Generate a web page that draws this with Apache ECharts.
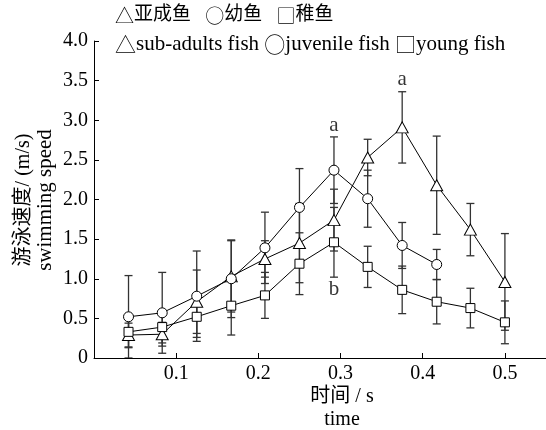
<!DOCTYPE html>
<html>
<head>
<meta charset="utf-8">
<script src="https://cdn.jsdelivr.net/npm/echarts@6/dist/echarts.min.js"></script>
<style>
html,body{margin:0;padding:0;background:#fff;}
#c{width:546px;height:430px;}
</style>
</head>
<body>
<div id="c"></div>
<script>
// time (s) of each measurement
const timeX = [0.042, 0.083, 0.125, 0.167, 0.208, 0.25, 0.292, 0.333, 0.375, 0.417, 0.458, 0.5];
// sub-adult fish (triangles)
const subMean = [0.29, 0.30, 0.71, 1.03, 1.25, 1.45, 1.74, 2.53, 2.91, 2.18, 1.62, 0.96];
const subSD   = [0.15, 0.15, 0.40, 0.45, 0.23, 0.50, 0.39, 0.23, 0.45, 0.62, 0.33, 0.61];
// juvenile fish (circles)
const juvMean = [0.52, 0.57, 0.78, 1.00, 1.39, 1.90, 2.37, 2.01, 1.42, 1.18];
const juvSD   = [0.52, 0.51, 0.57, 0.49, 0.45, 0.49, 0.42, 0.36, 0.29, 0.19];
// young fish (squares)
const youngMean = [0.33, 0.39, 0.52, 0.66, 0.79, 1.19, 1.46, 1.15, 0.86, 0.71, 0.63, 0.45];
const youngSD   = [0.20, 0.20, 0.26, 0.37, 0.29, 0.39, 0.44, 0.26, 0.30, 0.28, 0.25, 0.27];
// significance letters
const annX = [0.292, 0.375, 0.292];
const annY = [2.93, 3.51, 0.86];
const annText = ['a', 'a', 'b'];
// tick labels
const yTickLabels = {0: '0', 0.5: '0.5', 1: '1.0', 1.5: '1.5', 2: '2.0', 2.5: '2.5', 3: '3.0', 3.5: '3.5', 4: '4.0'};
const xTickLabels = {0.1: '0.1', 0.2: '0.2', 0.3: '0.3', 0.4: '0.4', 0.5: '0.5'};

const FONT = '"Liberation Serif", "Noto Sans CJK SC", serif';
const CJK = '"Noto Sans CJK SC", sans-serif';

function pts(mean) { return mean.map((m, i) => [timeX[i], m]); }
function bars(mean, sd) { return mean.map((m, i) => [timeX[i], Math.max(0, m - sd[i]), m + sd[i]]); }

function errRender(params, api) {
  const x = api.value(0), lo = api.value(1), hi = api.value(2);
  const p1 = api.coord([x, hi]), p2 = api.coord([x, lo]);
  const w = 4;
  const st = {stroke: '#333', lineWidth: 1.3};
  return {type: 'group', children: [
    {type: 'line', shape: {x1: p1[0], y1: p1[1], x2: p2[0], y2: p2[1]}, style: st},
    {type: 'line', shape: {x1: p1[0] - w, y1: p1[1], x2: p1[0] + w, y2: p1[1]}, style: st},
    {type: 'line', shape: {x1: p2[0] - w, y1: p2[1], x2: p2[0] + w, y2: p2[1]}, style: st}
  ]};
}

function errSeries(mean, sd) {
  return {type: 'custom', renderItem: errRender, data: bars(mean, sd), z: 1, silent: true,
    encode: {x: 0, y: [1, 2]}, clip: true};
}
function lineSeries(name, mean, symbol, size) {
  return {type: 'line', name: name, data: pts(mean), symbol: symbol, symbolSize: size, showAllSymbol: true,
    z: 3, lineStyle: {color: '#000', width: 1},
    itemStyle: {color: '#fff', borderColor: '#000', borderWidth: 1}};
}

const chart = echarts.init(document.getElementById('c'), null, {renderer: 'canvas'});
chart.setOption({
  animation: false,
  backgroundColor: '#fff',
  grid: {left: 94, top: 41, width: 454, height: 317},
  xAxis: {
    type: 'value', min: 0, max: 0.55, interval: 0.1,
    axisLine: {lineStyle: {color: '#000', width: 1}},
    axisTick: {inside: true, length: 5, lineStyle: {color: '#000'}},
    splitLine: {show: false},
    axisLabel: {color: '#000', fontFamily: FONT, fontSize: 20, margin: 6, showMaxLabel: false,
      formatter: v => xTickLabels[Math.round(v * 10) / 10] || ''}
  },
  yAxis: {
    type: 'value', min: 0, max: 4, interval: 0.5,
    axisLine: {lineStyle: {color: '#000', width: 1}},
    axisTick: {inside: true, length: 5, lineStyle: {color: '#000'}},
    splitLine: {show: false},
    axisLabel: {color: '#000', fontFamily: FONT, fontSize: 20, margin: 6,
      formatter: v => yTickLabels[v] || ''}
  },
  series: [
    errSeries(subMean, subSD),
    errSeries(juvMean, juvSD),
    errSeries(youngMean, youngSD),
    lineSeries('sub-adults fish', subMean, 'triangle', [12, 11]),
    lineSeries('juvenile fish', juvMean, 'circle', 10),
    lineSeries('young fish', youngMean, 'rect', 9),
    {type: 'scatter', data: annX.map((x, i) => [x, annY[i], annText[i]]), symbolSize: 1, z: 5,
      itemStyle: {color: 'rgba(0,0,0,0)'}, silent: true,
      label: {show: true, position: 'inside', color: '#000', fontFamily: FONT, fontSize: 21,
        formatter: p => p.value[2]}}
  ],
  graphic: [
    {type: 'text', left: 115, top: 6, style: {text: '{s|△}亚成鱼   {s|○}幼鱼   {s|□}稚鱼', font: '19px ' + FONT, fill: '#000',
      rich: {s: {fontFamily: CJK, fontSize: 19, fontWeight: 300, fill: '#000'}}}},
    {type: 'text', left: 115, top: 34, style: {text: '{s|△}sub-adults fish {s|○}juvenile fish {s|□}young fish', font: '21px ' + FONT, fill: '#000',
      rich: {s: {fontFamily: CJK, fontSize: 21, fontWeight: 300, fill: '#000'}}}},
    {type: 'text', x: 24, y: 200, rotation: Math.PI / 2, style: {text: '游泳速度/ (m/s)', font: '20px ' + FONT, fill: '#000', align: 'center', verticalAlign: 'middle'}},
    {type: 'text', x: 45, y: 200, rotation: Math.PI / 2, style: {text: 'swimming speed', font: '21px ' + FONT, fill: '#000', align: 'center', verticalAlign: 'middle'}},
    {type: 'text', x: 342, y: 397, style: {text: '时间 / s', font: '20px ' + FONT, fill: '#000', align: 'center', verticalAlign: 'middle'}},
    {type: 'text', x: 342, y: 420, style: {text: 'time', font: '20px ' + FONT, fill: '#000', align: 'center', verticalAlign: 'middle'}}
  ]
});
</script>
</body>
</html>
